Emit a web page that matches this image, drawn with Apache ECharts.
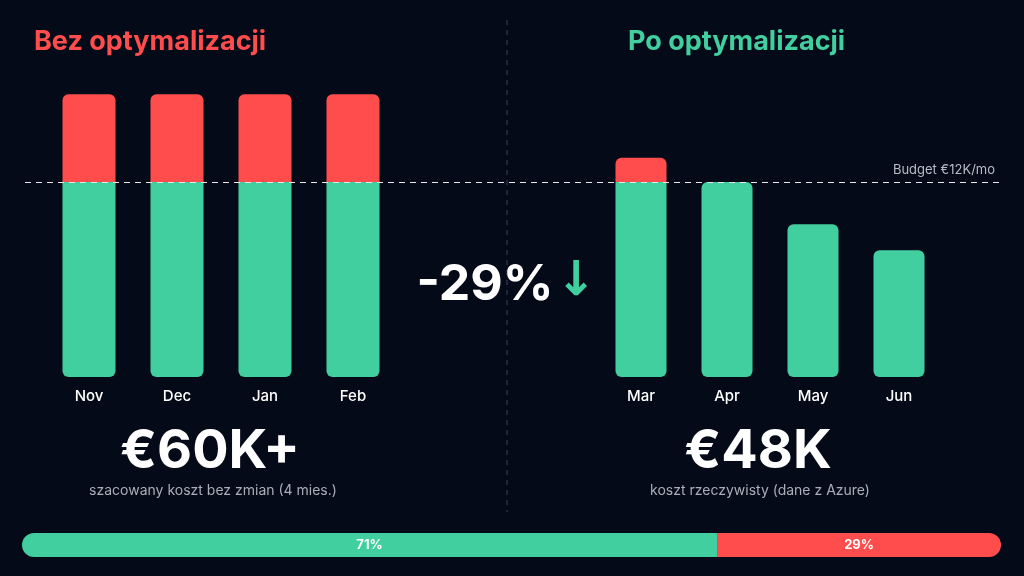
<!DOCTYPE html>
<html><head><meta charset="utf-8">
<script src="https://cdn.jsdelivr.net/npm/echarts@6/dist/echarts.min.js"></script>
<style>html,body{margin:0;background:#050a18}#c{width:1024px;height:576px}</style>
</head><body><div id="c"></div>
<script>
const beforeMonths = ['Nov','Dec','Jan','Feb'];
const beforeValues = [17.4, 17.4, 17.4, 17.4];
const afterMonths = ['Mar','Apr','May','Jun'];
const afterValues = [13.5, 12.0, 9.4, 7.8];
const budget = 12;
const shareLabels = ['71%','29%'];
const shareValues = [71, 29];

const GREEN = '#41cf9f', RED = '#ff4d4d', BG = '#050a18';
const R = 6;
function greenPart(vals){return vals.map(v=>({value:Math.min(v,budget),itemStyle:{borderRadius:v>budget?[0,0,R,R]:[R,R,R,R]}}));}
function redPart(vals){return vals.map(v=>v>budget?{value:+(v-budget).toFixed(2),itemStyle:{borderRadius:[R,R,0,0]}}:{value:0});}
const yMax = 18;
const gTop = 377 - 195*yMax/budget;
const yAx = i=>({gridIndex:i,type:'value',min:0,max:yMax,show:false});
const xCat = (i,d)=>({gridIndex:i,type:'category',data:d,axisLine:{show:false},axisTick:{show:false},
  axisLabel:{color:'#fff',fontSize:15,fontWeight:500,margin:12,fontFamily:'Inter'}});
const chart = echarts.init(document.getElementById('c'));
chart.setOption({
  backgroundColor: BG,
  animation:false,
  grid:[
    {left:45,width:352,top:gTop,bottom:199},
    {left:598,width:344,top:gTop,bottom:199},
    {left:25,right:24,top:gTop,bottom:199},
    {left:22,right:23,top:533,height:24}
  ],
  xAxis:[xCat(0,beforeMonths),xCat(1,afterMonths),{gridIndex:2,type:'value',show:false},
    {gridIndex:3,type:'value',min:0,max:100,show:false}],
  yAxis:[yAx(0),yAx(1),yAx(2),{gridIndex:3,type:'category',data:['x'],show:false}],
  series:[
    {type:'bar',xAxisIndex:0,yAxisIndex:0,stack:'a',barWidth:53,data:greenPart(beforeValues),itemStyle:{color:GREEN}},
    {type:'bar',xAxisIndex:0,yAxisIndex:0,stack:'a',barWidth:53,data:redPart(beforeValues),itemStyle:{color:RED}},
    {type:'bar',xAxisIndex:1,yAxisIndex:1,stack:'b',barWidth:51,data:greenPart(afterValues),itemStyle:{color:GREEN}},
    {type:'bar',xAxisIndex:1,yAxisIndex:1,stack:'b',barWidth:51,data:redPart(afterValues),itemStyle:{color:RED}},
    {type:'line',xAxisIndex:2,yAxisIndex:2,data:[],markLine:{symbol:'none',silent:true,
      lineStyle:{color:'#e8e8e8',type:[6,5],width:1.2},
      label:{show:true,position:'insideEndTop',formatter:'Budget €12K/mo',color:'#b8bcc6',fontSize:13,fontFamily:'Inter'},
      data:[{yAxis:budget}]}},
    {type:'bar',xAxisIndex:3,yAxisIndex:3,stack:'p',barWidth:24,
      data:[{value:shareValues[0],itemStyle:{borderRadius:[12,0,0,12]}}],itemStyle:{color:GREEN},
      label:{show:true,formatter:shareLabels[0],color:'#fff',fontWeight:'bold',fontSize:13,fontFamily:'Inter'}},
    {type:'bar',xAxisIndex:3,yAxisIndex:3,stack:'p',barWidth:24,
      data:[{value:shareValues[1],itemStyle:{borderRadius:[0,12,12,0]}}],itemStyle:{color:RED},
      label:{show:true,formatter:shareLabels[1],color:'#fff',fontWeight:'bold',fontSize:13,fontFamily:'Inter'}}
  ],
  graphic:[
    {type:'line',shape:{x1:507,y1:20,x2:507,y2:512},style:{stroke:'#3a4256',lineDash:[5,5],lineWidth:1}},
    {type:'text',left:34,top:28,style:{text:'Bez optymalizacji',fill:RED,font:'bold 27px Inter'}},
    {type:'text',left:628,top:28,style:{text:'Po optymalizacji',fill:GREEN,font:'bold 27px Inter'}},
    {type:'text',x:210,y:452,style:{text:'€60K+',fill:'#fff',font:'bold 54px Inter',align:'center',verticalAlign:'middle'}},
    {type:'text',x:213,y:491,style:{text:'szacowany koszt bez zmian (4 mies.)',fill:'#a9aeb9',font:'14px Inter',align:'center',verticalAlign:'middle'}},
    {type:'text',x:758,y:452,style:{text:'€48K',fill:'#fff',font:'bold 54px Inter',align:'center',verticalAlign:'middle'}},
    {type:'text',x:760,y:491,style:{text:'koszt rzeczywisty (dane z Azure)',fill:'#a9aeb9',font:'14px Inter',align:'center',verticalAlign:'middle'}},
    {type:'text',x:485,y:285,style:{text:'-29%',fill:'#fff',font:'bold 50px Inter',align:'center',verticalAlign:'middle'}},
    {type:'text',x:576,y:283,style:{text:'↓',fill:GREEN,font:'bold 48px DejaVu Sans',align:'center',verticalAlign:'middle'}}
  ]
});
</script></body></html>
